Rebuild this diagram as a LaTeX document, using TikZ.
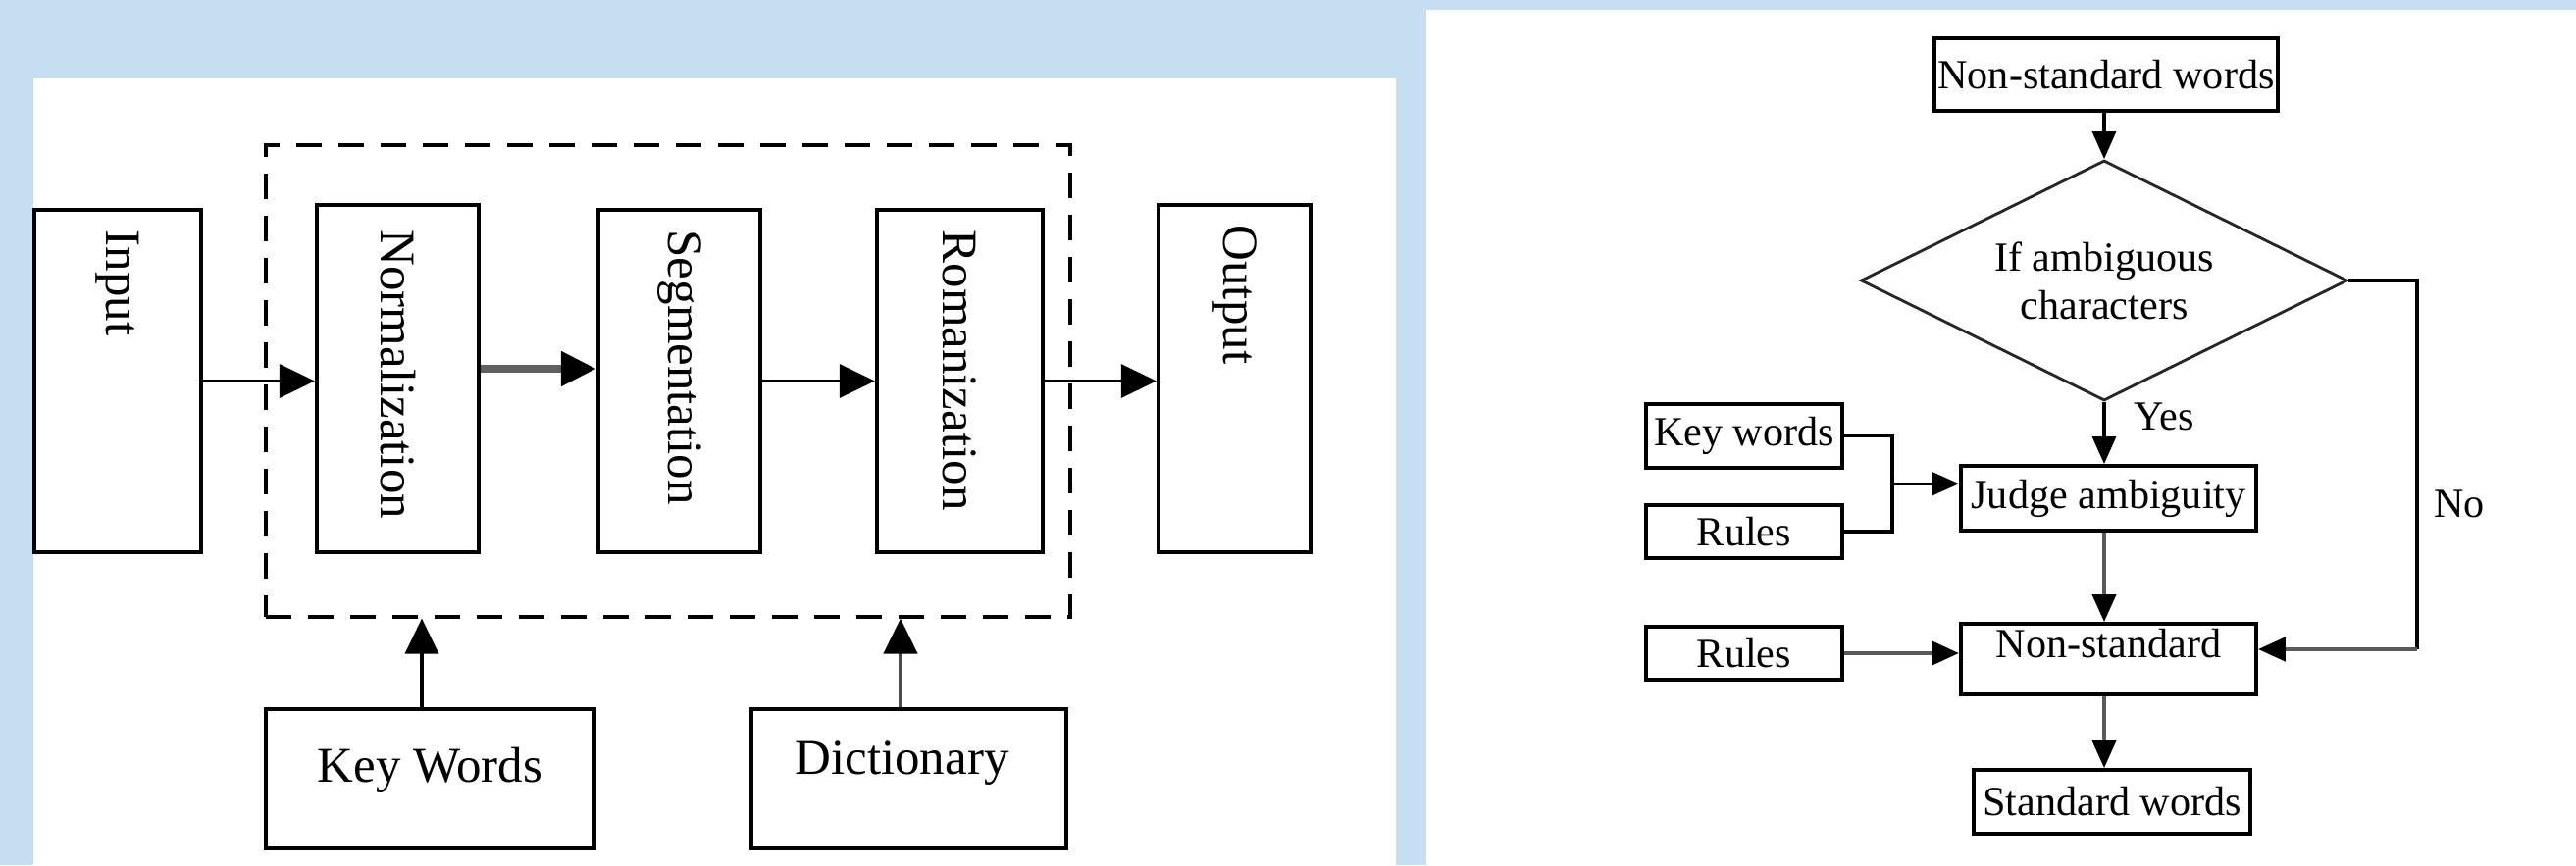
\documentclass[tikz,border=0pt]{standalone}
\usepackage{fontspec}
\setmainfont{Liberation Serif}
\usepackage{xcolor}
\usepackage{tikz}
\usetikzlibrary{arrows.meta,shapes.geometric,calc}
\definecolor{panelblue}{RGB}{198,222,241}

\begin{document}
\begin{tikzpicture}[
    blk/.style={draw, line width=1.2pt, inner sep=0pt},
    vtxt/.style={rotate=-90, anchor=west, inner sep=0pt, font=\fontsize{14.5}{17}\selectfont},
    htxt/.style={inner sep=0pt, font=\fontsize{14.5}{17}\selectfont},
    sbox/.style={draw, line width=1.1pt, inner sep=0pt, font=\fontsize{12}{14}\selectfont},
    lbl/.style={inner sep=0pt, font=\fontsize{12}{14}\selectfont},
    larr/.style={line width=0.9pt, -{Triangle[length=0.36cm,width=0.34cm,color=black]}},
    sarr/.style={line width=0.9pt, -{Triangle[length=0.28cm,width=0.24cm,color=black]}},
    grayline/.style={gray!70!black, line width=1.4pt}
]
    \useasboundingbox (0,0) rectangle (26.26,8.82);
    \fill[panelblue] (0,0) rectangle (26.26,8.82);
    \fill[white] (0.34,0) rectangle (14.23,8.02);
    \fill[white] (14.54,0) rectangle (26.26,8.72);

    \node[draw, dash pattern=on 0.26cm off 0.17cm, line width=0.9pt, minimum width=8.20cm, minimum height=4.81cm] (proc) at (6.81,4.935) {};

    \node[blk, minimum width=1.70cm, minimum height=3.49cm] (inp) at (1.20,4.935) {};
    \node[blk, minimum width=1.65cm, minimum height=3.54cm] (norm) at (4.055,4.96) {};
    \node[blk, minimum width=1.65cm, minimum height=3.49cm] (seg) at (6.925,4.935) {};
    \node[blk, minimum width=1.69cm, minimum height=3.49cm] (rom) at (9.785,4.935) {};
    \node[blk, minimum width=1.55cm, minimum height=3.54cm] (out) at (12.585,4.96) {};
    \node[blk, minimum width=3.35cm, minimum height=1.42cm] (kw) at (4.385,0.88) {};
    \node[blk, minimum width=3.21cm, minimum height=1.42cm] (dict) at (9.265,0.88) {};

    \node[vtxt] (inpt) at ([yshift=-0.22cm]inp.north) {Input};
    \node[vtxt] (normt) at ([yshift=-0.27cm]norm.north) {Normalization};
    \node[vtxt] (segt) at ([yshift=-0.22cm]seg.north) {Segmentation};
    \node[vtxt] (romt) at ([yshift=-0.22cm]rom.north) {Romanization};
    \node[vtxt] (outt) at ([yshift=-0.22cm]out.north) {Output};
    \node[htxt] (kwt) at ([yshift=0.09cm]kw.center) {Key Words};
    \node[htxt] (dictt) at ([xshift=-0.07cm,yshift=0.16cm]dict.center) {Dictionary};

    \draw[larr] (inp.east) -- (inp.east -| norm.west);
    \draw[larr, gray!75!black, line width=2.3pt] ([yshift=0.1cm]norm.east) -- ([yshift=0.1cm]norm.east -| seg.west);
    \draw[larr] (seg.east) -- (seg.east -| rom.west);
    \draw[larr] (rom.east) -- (rom.east -| out.west);
    \draw[larr] ([xshift=-0.085cm]kw.north) -- ([xshift=-0.085cm]kw.north |- proc.south);
    \draw[larr, gray!60!black, line width=1.2pt] ([xshift=-0.085cm]dict.north) -- ([xshift=-0.085cm]dict.north |- proc.south);

    \node[sbox, minimum width=3.50cm, minimum height=0.74cm] (nsw) at (21.47,8.06) {Non-standard words};
    \node[draw=black!85, diamond, shape aspect=2, line width=0.8pt, minimum width=4.96cm, minimum height=2.45cm, inner sep=0pt, align=center, font=\fontsize{12}{14}\selectfont] (dia) at (21.45,5.96) {If ambiguous\\characters};
    \node[sbox, minimum width=2.00cm, minimum height=0.65cm] (kwr) at (17.78,4.375) {Key words};
    \node[sbox, minimum width=2.00cm, minimum height=0.54cm] (rl1) at (17.78,3.40) {Rules};
    \node[sbox, minimum width=2.00cm, minimum height=0.54cm] (rl2) at (17.78,2.16) {Rules};
    \node[sbox, minimum width=3.01cm, minimum height=0.66cm] (judge) at (21.495,3.74) {Judge ambiguity};
    \node[sbox, minimum width=3.01cm, minimum height=0.72cm] (nstd) at (21.495,2.10) {};
    \node[lbl, anchor=north] (nstdt) at ([yshift=-0.06cm]nstd.north) {Non-standard};
    \node[sbox, minimum width=2.82cm, minimum height=0.65cm] (std) at (21.53,0.645) {Standard words};
    \node[lbl, anchor=north west] (yes) at ([xshift=0.3cm]dia.south) {Yes};
    \node[lbl] (no) at (25.07,3.68) {No};

    \draw[sarr] (dia.north |- nsw.south) -- (dia.north);
    \draw[sarr] (dia.south) -- (dia.south |- judge.north);
    \draw[sarr, gray!70!black, line width=1.1pt] (dia.south |- judge.south) -- (dia.south |- nstd.north);
    \draw[sarr, gray!70!black, line width=1.1pt] (dia.south |- nstd.south) -- (dia.south |- std.north);
    \coordinate (jn) at ($(kwr.east)!0.5!(rl1.east)+(0.49,0)$);
    \draw[line width=0.9pt] (kwr.east) -| (jn) |- (rl1.east);
    \draw[sarr] (jn) -- (jn -| judge.west);
    \draw[sarr, grayline] (rl2.east) -- (rl2.east -| nstd.west);
    \coordinate (nocor) at ($(nstd.east)+(1.62,0.1)$);
    \draw[line width=0.9pt] (dia.east) -| (nocor);
    \draw[sarr, grayline] (nocor) -- (nocor -| nstd.east);
\end{tikzpicture}
\end{document}
